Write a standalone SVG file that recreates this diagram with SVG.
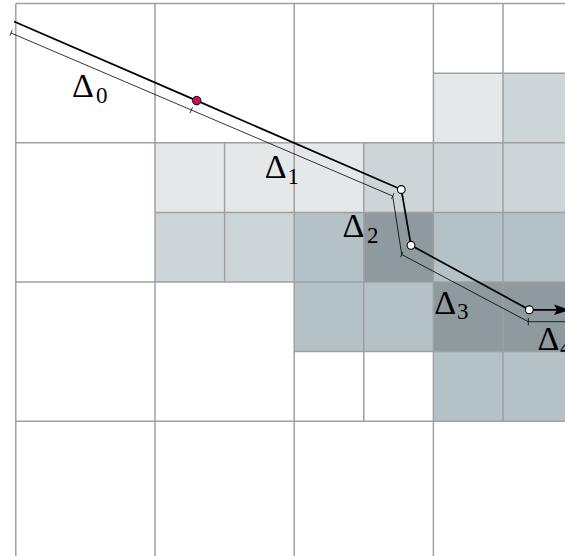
<svg xmlns="http://www.w3.org/2000/svg" width="565" height="556" viewBox="0 0 565 556">
<defs>
<style>
.l1{fill:#e4e8e9}
.l2{fill:#ccd5d8}
.l3{fill:#b4c2c7}
.l4{fill:#8e9a9d}
.grid{stroke:#a0a0a0;stroke-width:1.5;fill:none}
.thick{stroke:#000;stroke-width:1.7;fill:none;stroke-linejoin:round}
.thin{stroke:#000;stroke-width:0.8;fill:none;stroke-linejoin:miter}
.pt{fill:#fff;stroke:#000;stroke-width:1.1}
</style>
</defs>
<rect width="565" height="556" fill="#fff"/>
<g id="cells">
<rect class="l1" x="433.4" y="73.2" width="69.6" height="69.6"/>
<rect class="l2" x="503" y="73.2" width="69.6" height="69.6"/>
<rect class="l1" x="155" y="142.8" width="69.6" height="69.6"/>
<rect class="l1" x="224.6" y="142.8" width="69.6" height="69.6"/>
<rect class="l1" x="294.2" y="142.8" width="69.6" height="69.6"/>
<rect class="l2" x="363.8" y="142.8" width="69.6" height="69.6"/>
<rect class="l2" x="433.4" y="142.8" width="69.6" height="69.6"/>
<rect class="l2" x="503" y="142.8" width="69.6" height="69.6"/>
<rect class="l2" x="155" y="212.4" width="69.6" height="69.6"/>
<rect class="l2" x="224.6" y="212.4" width="69.6" height="69.6"/>
<rect class="l3" x="294.2" y="212.4" width="69.6" height="69.6"/>
<rect class="l4" x="363.8" y="212.4" width="69.6" height="69.6"/>
<rect class="l3" x="433.4" y="212.4" width="69.6" height="69.6"/>
<rect class="l3" x="503" y="212.4" width="69.6" height="69.6"/>
<rect class="l3" x="294.2" y="282" width="69.6" height="69.6"/>
<rect class="l3" x="363.8" y="282" width="69.6" height="69.6"/>
<rect class="l4" x="433.4" y="282" width="69.6" height="69.6"/>
<rect class="l4" x="503" y="282" width="69.6" height="69.6"/>
<rect class="l3" x="433.4" y="351.6" width="69.6" height="69.6"/>
<rect class="l3" x="503" y="351.6" width="69.6" height="69.6"/>
</g>
<g id="grid" class="grid">
<path d="M15.8 3.6V556M155 3.6V556M294.2 3.6V556M433.4 3.6V556"/>
<path d="M15.8 3.6H565M15.8 142.8H565M15.8 282H565M15.8 421.2H565"/>
<path d="M503 3.6V421.2M363.8 142.8V421.2M224.6 142.8V282"/>
<path d="M433.4 73.2H565M155 212.4H565M294.2 351.6H565"/>
</g>
<g id="connectors">
<path class="thin" d="M11 33L392.7 196L401.7 254.5L528.3 321.7H565"/>
<path class="thin" d="M9.8 35.8L12.3 30.2M190 113L192.5 107.4M391.5 198.8L394 193.2M400.3 257.3L403.1 251.9M528.3 318V325.4"/>
<path class="thick" d="M14 21.5L196.7 100.6L401.3 189.5L411 245.3L529.3 309.8H557"/>
<polygon points="554,304.5 570,309.8 554,315.1 557,309.8" fill="#000"/>
</g>
<g id="points">
<circle cx="196.7" cy="100.6" r="4.3" fill="#c8105a" stroke="#000" stroke-width="0.9"/>
<circle class="pt" cx="401.3" cy="189.5" r="3.9"/>
<circle class="pt" cx="411" cy="245.3" r="3.9"/>
<circle class="pt" cx="529.3" cy="309.8" r="3.9"/>
</g>
<g id="labels" font-family="'Liberation Serif', serif" fill="#000">
<text font-size="34" x="72" y="96.8">Δ</text><text font-size="23" x="96" y="103">0</text>
<text font-size="34" x="264.8" y="178.3">Δ</text><text font-size="23" x="287.5" y="183.5">1</text>
<text font-size="34" x="342.6" y="237.3">Δ</text><text font-size="23" x="367" y="243">2</text>
<text font-size="34" x="434.3" y="314">Δ</text><text font-size="23" x="457" y="318.5">3</text>
<text font-size="34" x="537.6" y="350">Δ</text><text font-size="23" x="560" y="355">4</text>
</g>
</svg>
